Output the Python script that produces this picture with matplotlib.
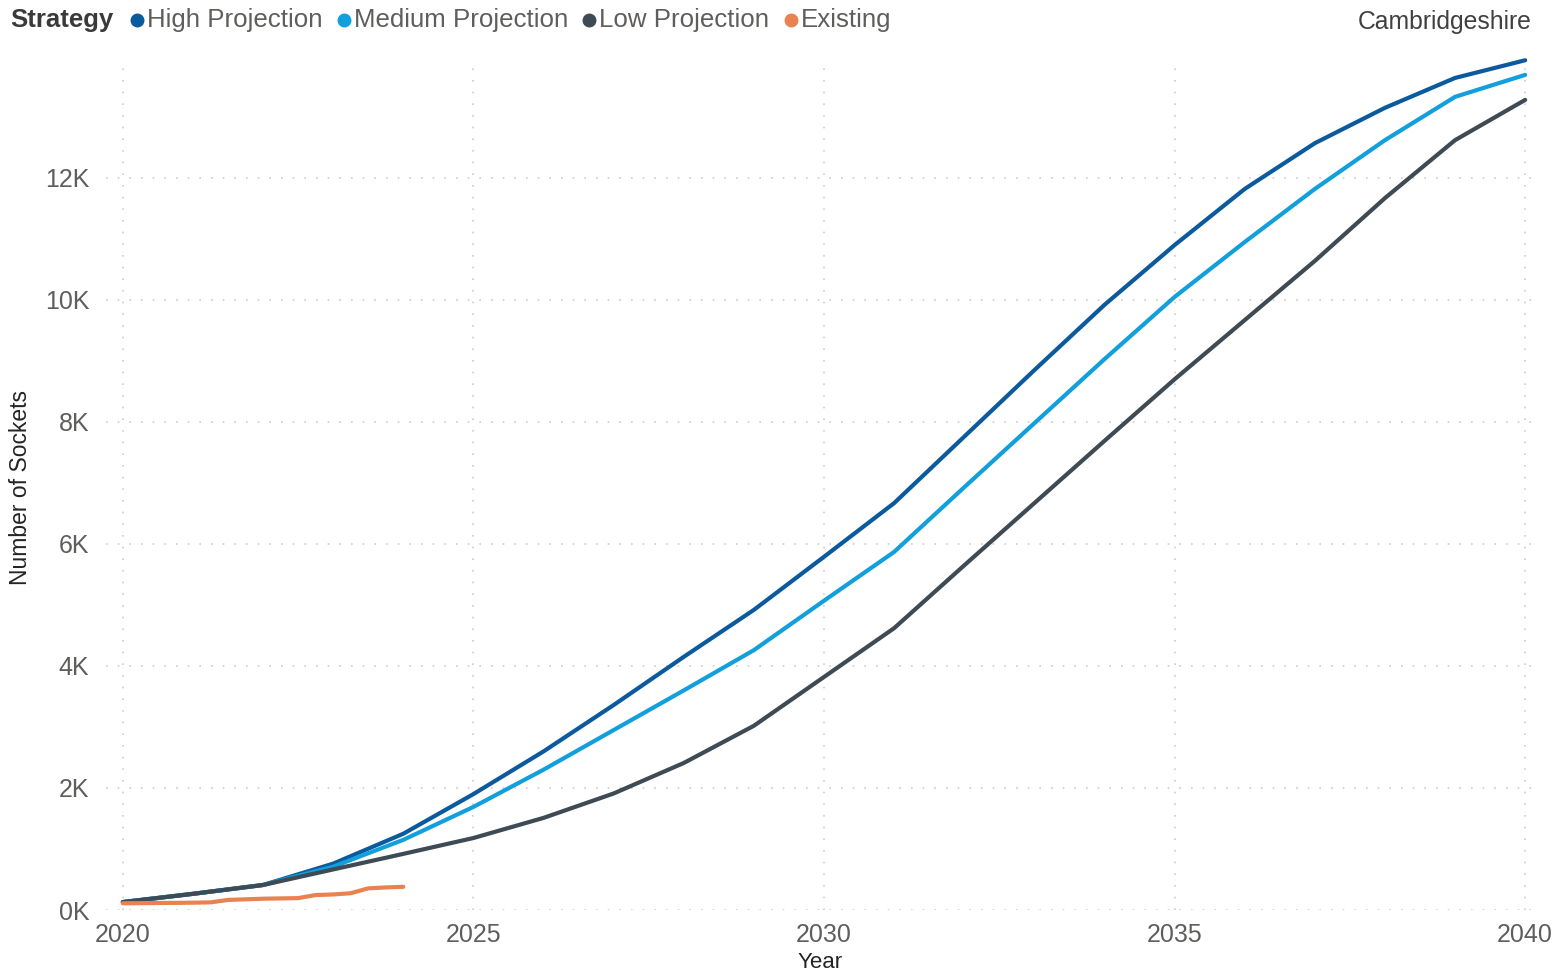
import matplotlib
matplotlib.use("Agg")
import matplotlib.pyplot as plt
from matplotlib.lines import Line2D
from matplotlib.ticker import FuncFormatter, MultipleLocator

plt.rcParams["font.family"] = ["Liberation Sans", "DejaVu Sans"]

# yearly projections of charging sockets
years = list(range(2020, 2041))
high = [130, 265, 410, 760, 1250, 1900, 2600, 3360, 4150, 4920, 5790,
        6670, 7760, 8850, 9920, 10900, 11820, 12570, 13150, 13640, 13930]
medium = [130, 265, 410, 710, 1150, 1690, 2300, 2950, 3600, 4260, 5070,
          5870, 6930, 7980, 9030, 10050, 10950, 11820, 12620, 13330, 13690]
low = [130, 265, 410, 665, 920, 1180, 1510, 1910, 2410, 3020, 3820,
       4620, 5650, 6670, 7690, 8700, 9670, 10640, 11670, 12620, 13280]

# quarterly count of installed sockets
existing_t = [2020.0, 2020.25, 2020.5, 2020.75, 2021.0, 2021.25, 2021.5, 2021.75,
              2022.0, 2022.25, 2022.5, 2022.75, 2023.0, 2023.25, 2023.5, 2023.75, 2024.0]
existing = [110, 112, 115, 117, 120, 125, 165, 175, 185, 190, 195, 245,
            255, 275, 355, 370, 380]

series = [
    ("High Projection", high, "#0B5A9E"),
    ("Medium Projection", medium, "#12A0DC"),
    ("Low Projection", low, "#3E4A54"),
]
existing_color = "#E98250"

W, H = 1556, 973
fig = plt.figure(figsize=(W / 100, H / 100), dpi=100)
ax = fig.add_axes([106 / W, 1 - 910 / H, 1429 / W, 845 / H])

for name, vals, col in series:
    ax.plot(years, vals, color=col, lw=3, solid_capstyle="round", clip_on=False, zorder=3)
ax.plot(existing_t, existing, color=existing_color, lw=3, solid_capstyle="round",
        clip_on=False, zorder=4)

ax.set_xlim(2019.76, 2040.14)
ax.set_ylim(0, 13852)
ax.xaxis.set_major_locator(MultipleLocator(5))
ax.yaxis.set_major_locator(MultipleLocator(2000))
ax.yaxis.set_major_formatter(FuncFormatter(lambda v, _: f"{int(v / 1000)}K"))

ax.grid(True, color="#CFCDCB", lw=1.2, linestyle=(0, (1, 6)))
ax.set_axisbelow(True)
for s in ax.spines.values():
    s.set_visible(False)
ax.tick_params(length=0, labelsize=18, labelcolor="#605E5C")
ax.tick_params(axis="x", pad=9)
ax.tick_params(axis="y", pad=12)

ax.set_xlabel("Year", fontsize=16, color="#252423", labelpad=4)
ax.set_ylabel("Number of Sockets", fontsize=16.5, color="#252423", labelpad=9)

# legend row along the top edge
def px(x, y):
    return x / W, 1 - y / H

fig.text(*px(10, 20), "Strategy", fontsize=18.5, fontweight="bold", color="#3A3A3A",
         ha="left", va="center")
legend_items = [
    (137, "High Projection", "#0B5A9E"),
    (344, "Medium Projection", "#12A0DC"),
    (589, "Low Projection", "#3E4A54"),
    (791, "Existing", existing_color),
]
for mx, label, col in legend_items:
    fx, fy = px(mx, 20)
    fig.add_artist(Line2D([fx], [fy], marker="o", markersize=9, color=col,
                          transform=fig.transFigure, linestyle="none"))
    fig.text(*px(mx + 10, 20), label, fontsize=18.6, color="#605E5C",
             ha="left", va="center")

fig.text(*px(1532, 22), "Cambridgeshire", fontsize=17.8, color="#404040",
         ha="right", va="center")

fig.savefig("out.png", dpi=100)
